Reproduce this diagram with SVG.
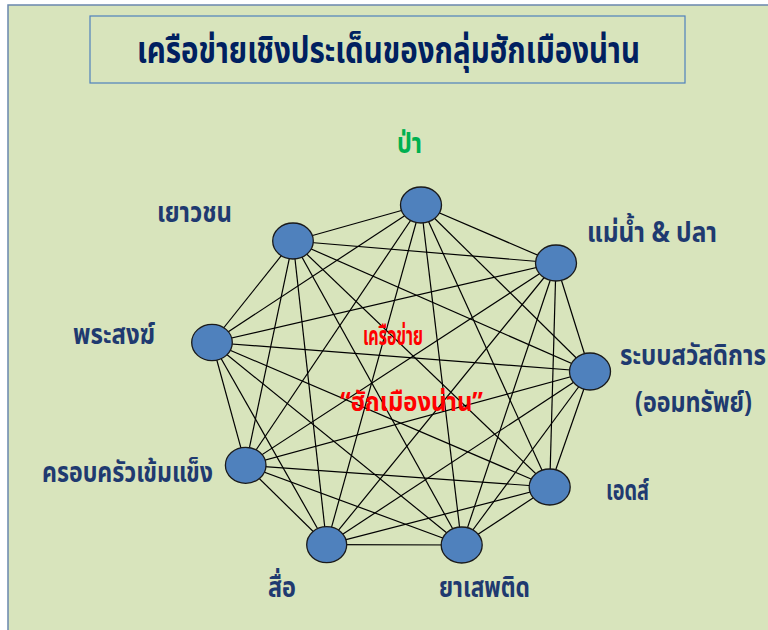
<svg xmlns="http://www.w3.org/2000/svg" width="768" height="630" viewBox="0 0 768 630">
<style>
.lbl{font-family:"Noto Sans Thai","Noto Sans",sans-serif;font-weight:bold;font-size:28px;fill:#1f3a70}
.red{font-family:"Noto Sans Thai","Noto Sans",sans-serif;font-weight:bold;font-size:27px;fill:#ff0000}
.node{fill:#4f81bd;stroke:#1a1a1a;stroke-width:1.3}
#connectors line{stroke:#000;stroke-width:1.2}
</style>
<rect x="0" y="0" width="768" height="630" fill="#ffffff"/>
<rect x="8" y="5" width="800" height="700" fill="#d8e4bc" stroke="#6a87ad" stroke-width="1.5"/>
<g id="title">
<rect x="90" y="16" width="595" height="67" fill="none" stroke="#4f81bd" stroke-width="1.2"/>
<text x="137" y="63" font-family="Noto Sans Thai, Noto Sans, sans-serif" font-weight="bold" font-size="38" fill="#002060" textLength="503" lengthAdjust="spacingAndGlyphs">เครือข่ายเชิงประเด็นของกลุ่มฮักเมืองน่าน</text>
</g>
<g id="connectors">
<line x1="421" y1="205" x2="556" y2="263"/>
<line x1="421" y1="205" x2="590" y2="371.5"/>
<line x1="421" y1="205" x2="549.7" y2="487"/>
<line x1="421" y1="205" x2="461.7" y2="545"/>
<line x1="421" y1="205" x2="326.7" y2="544.7"/>
<line x1="421" y1="205" x2="245.7" y2="465.3"/>
<line x1="421" y1="205" x2="212" y2="342.5"/>
<line x1="421" y1="205" x2="293" y2="241"/>
<line x1="556" y1="263" x2="590" y2="371.5"/>
<line x1="556" y1="263" x2="549.7" y2="487"/>
<line x1="556" y1="263" x2="461.7" y2="545"/>
<line x1="556" y1="263" x2="326.7" y2="544.7"/>
<line x1="556" y1="263" x2="245.7" y2="465.3"/>
<line x1="556" y1="263" x2="212" y2="342.5"/>
<line x1="556" y1="263" x2="293" y2="241"/>
<line x1="590" y1="371.5" x2="549.7" y2="487"/>
<line x1="590" y1="371.5" x2="461.7" y2="545"/>
<line x1="590" y1="371.5" x2="326.7" y2="544.7"/>
<line x1="590" y1="371.5" x2="245.7" y2="465.3"/>
<line x1="590" y1="371.5" x2="212" y2="342.5"/>
<line x1="590" y1="371.5" x2="293" y2="241"/>
<line x1="549.7" y1="487" x2="461.7" y2="545"/>
<line x1="549.7" y1="487" x2="326.7" y2="544.7"/>
<line x1="549.7" y1="487" x2="245.7" y2="465.3"/>
<line x1="549.7" y1="487" x2="212" y2="342.5"/>
<line x1="549.7" y1="487" x2="293" y2="241"/>
<line x1="461.7" y1="545" x2="326.7" y2="544.7"/>
<line x1="461.7" y1="545" x2="245.7" y2="465.3"/>
<line x1="461.7" y1="545" x2="212" y2="342.5"/>
<line x1="461.7" y1="545" x2="293" y2="241"/>
<line x1="326.7" y1="544.7" x2="245.7" y2="465.3"/>
<line x1="326.7" y1="544.7" x2="212" y2="342.5"/>
<line x1="326.7" y1="544.7" x2="293" y2="241"/>
<line x1="245.7" y1="465.3" x2="212" y2="342.5"/>
<line x1="245.7" y1="465.3" x2="293" y2="241"/>
<line x1="212" y1="342.5" x2="293" y2="241"/>
</g>
<g id="n-pa"><ellipse class="node" cx="421" cy="205" rx="20.5" ry="18"/><text x="397" y="153" class="lbl" style="fill:#00b050" textLength="25" lengthAdjust="spacingAndGlyphs">ป่า</text></g>
<g id="n-river"><ellipse class="node" cx="556" cy="263" rx="20.5" ry="18"/><text x="587" y="242" class="lbl" textLength="130" lengthAdjust="spacingAndGlyphs">แม่น้ำ &amp; ปลา</text></g>
<g id="n-welfare"><ellipse class="node" cx="590" cy="371.5" rx="20.5" ry="18.5"/><text x="620" y="365" class="lbl" textLength="146" lengthAdjust="spacingAndGlyphs">ระบบสวัสดิการ</text><text x="635" y="412" class="lbl" textLength="117" lengthAdjust="spacingAndGlyphs">(ออมทรัพย์)</text></g>
<g id="n-aids"><ellipse class="node" cx="549.7" cy="487" rx="20.5" ry="18"/><text x="606" y="500" class="lbl" textLength="43" lengthAdjust="spacingAndGlyphs">เอดส์</text></g>
<g id="n-drugs"><ellipse class="node" cx="461.7" cy="545" rx="20.5" ry="18"/><text x="439" y="597" class="lbl" textLength="91" lengthAdjust="spacingAndGlyphs">ยาเสพติด</text></g>
<g id="n-media"><ellipse class="node" cx="326.7" cy="544.7" rx="20" ry="18"/><text x="268" y="597" class="lbl" textLength="28" lengthAdjust="spacingAndGlyphs">สื่อ</text></g>
<g id="n-family"><ellipse class="node" cx="245.7" cy="465.3" rx="20.3" ry="18"/><text x="42" y="482" class="lbl" textLength="171" lengthAdjust="spacingAndGlyphs">ครอบครัวเข้มแข็ง</text></g>
<g id="n-monk"><ellipse class="node" cx="212" cy="342.5" rx="20.3" ry="18.2"/><text x="73" y="344" class="lbl" textLength="82" lengthAdjust="spacingAndGlyphs">พระสงฆ์</text></g>
<g id="n-youth"><ellipse class="node" cx="293" cy="241" rx="20.3" ry="18"/><text x="157" y="222" class="lbl" textLength="75" lengthAdjust="spacingAndGlyphs">เยาวชน</text></g>
<g id="center-label"><text x="363" y="345" class="red" textLength="60" lengthAdjust="spacingAndGlyphs">เครือข่าย</text><text x="340" y="411" class="red" textLength="143" lengthAdjust="spacingAndGlyphs">“ฮักเมืองน่าน”</text></g>
</svg>
